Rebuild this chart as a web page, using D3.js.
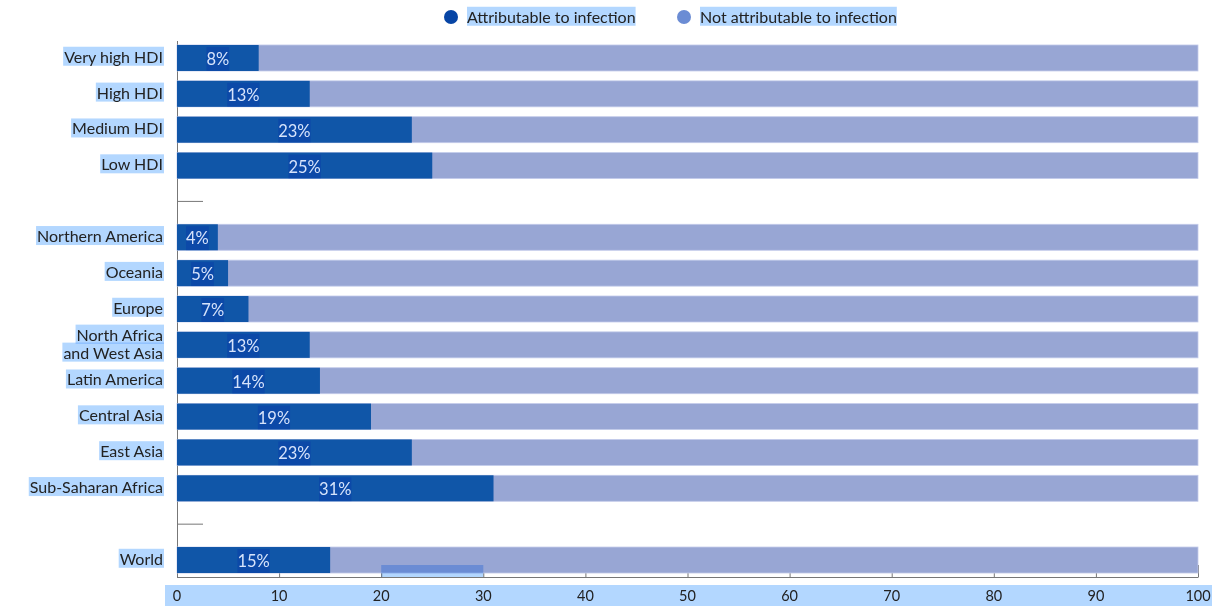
<!DOCTYPE html>
<html>
<head>
<meta charset="utf-8">
<script src="https://cdn.jsdelivr.net/npm/d3@7"></script>
<style>
  html, body { margin: 0; padding: 0; background: #fff; }
  svg { display: block; }
  text { font-family: "Lato", "Noto Sans", sans-serif; }
</style>
</head>
<body>
<svg id="chart" width="1212" height="606"></svg>
<script>
// ---- data ----
const categories = ["Very high HDI", "High HDI", "Medium HDI", "Low HDI", "gap1",
  "Northern America", "Oceania", "Europe", "North Africa\nand West Asia", "Latin America",
  "Central Asia", "East Asia", "Sub-Saharan Africa", "gap2", "World"];
const attributable = [8, 13, 23, 25, null, 4, 5, 7, 13, 14, 19, 23, 31, null, 15];
const seriesNames = ["Attributable to infection", "Not attributable to infection"];
const xTicks = [0, 10, 20, 30, 40, 50, 60, 70, 80, 90, 100];

// ---- layout ----
const W = 1212, H = 606;
const mLeft = 177, mRight = 1198, mTop = 40.5, mBottom = 577.5;
const cAttr = "#0a52a5", cNot = "#98a6d4";
const hl = "#b3d7ff";

const svg = d3.select("#chart");
const x = d3.scaleLinear().domain([0, 100]).range([mLeft, mRight]);
const y = d3.scaleBand().domain(categories).range([mTop, mBottom]).paddingInner(0.275).paddingOuter(0.125);

const rows = categories.map((c, i) => ({ cat: c, v: attributable[i] }));
const dataRows = rows.filter(d => d.v !== null);

// y axis (ticks drawn inward)
const yAxis = svg.append("g").attr("transform", `translate(${mLeft},0)`)
  .call(d3.axisLeft(y).tickSizeInner(-26).tickSizeOuter(0).tickFormat(""));
yAxis.select(".domain").attr("stroke", "#777");
yAxis.selectAll(".tick line").attr("stroke", "#777");

// x axis (ticks inward)
const xAxis = svg.append("g").attr("transform", `translate(0,${mBottom - 0.5})`)
  .call(d3.axisBottom(x).tickValues(xTicks).tickSizeInner(-12).tickSizeOuter(0).tickFormat(""));
xAxis.select(".domain").attr("stroke", "#777");
xAxis.selectAll(".tick line").attr("stroke", "#777");

// bars
const gBars = svg.append("g");
gBars.selectAll("rect.not").data(dataRows).join("rect").attr("class", "not")
  .attr("x", x(0)).attr("y", d => y(d.cat))
  .attr("width", x(100) - x(0)).attr("height", y.bandwidth())
  .attr("fill", cNot)
  .attr("stroke", "#c3cbea").attr("stroke-width", 0.8);
gBars.selectAll("rect.attr").data(dataRows).join("rect").attr("class", "attr")
  .attr("x", x(0)).attr("y", d => y(d.cat))
  .attr("width", d => x(d.v) - x(0)).attr("height", y.bandwidth())
  .attr("fill", cAttr).attr("fill-opacity", 0.96);

// highlight helper: multiply-blend rect behind text
function highlight(g, textSel, padX, padY, fixedH) {
  textSel.each(function () {
    const b = this.getBBox();
    const h = fixedH || (b.height + 2 * padY);
    const yy = fixedH ? b.y + b.height / 2 - fixedH / 2 : b.y - padY;
    g.insert("rect", ":first-child")
      .attr("x", b.x - padX).attr("y", yy)
      .attr("width", b.width + 2 * padX).attr("height", h)
      .attr("fill", hl).style("mix-blend-mode", "multiply");
  });
}

// value labels
const gVal = svg.append("g");
const valTexts = gVal.selectAll("text").data(dataRows).join("text")
  .attr("x", d => (x(0) + x(d.v)) / 2)
  .attr("y", d => y(d.cat) + y.bandwidth() / 2 + 1)
  .attr("dy", "0.36em")
  .attr("text-anchor", "middle")
  .attr("font-size", 16.5)
  .attr("fill", "#d6e3fb")
  .text(d => d.v + "%");
highlight(gVal, valTexts, 0, 0, y.bandwidth() - 2);

// category labels
const gLab = svg.append("g");
const labTexts = [];
dataRows.forEach(d => {
  const lines = d.cat.split("\n");
  const cy = y(d.cat) + y.bandwidth() / 2;
  const lh = 18;
  lines.forEach((ln, i) => {
    const t = gLab.append("text")
      .attr("x", 163).attr("y", cy + (i - (lines.length - 1) / 2) * lh - 1)
      .attr("dy", "0.36em").attr("text-anchor", "end")
      .attr("font-size", 16).attr("fill", "#222").text(ln);
    labTexts.push(t.node());
  });
});
highlight(gLab, d3.selectAll(labTexts), 1, 0);

// x tick labels with band
const gXt = svg.append("g");
gXt.append("rect").attr("x", 165).attr("y", 585).attr("width", W - 165).attr("height", 21).attr("fill", hl);
gXt.selectAll("text").data(xTicks).join("text")
  .attr("x", d => x(d)).attr("y", 596).attr("dy", "0.36em")
  .attr("text-anchor", "middle").attr("font-size", 14.5).attr("fill", "#222")
  .text(d => d);

// selection artefact between 20 and 30 at bottom
svg.append("rect").attr("x", x(20)).attr("y", 565).attr("width", x(30) - x(20)).attr("height", mBottom - 0.5 - 565)
  .attr("fill", hl).style("mix-blend-mode", "multiply");

// legend
const legend = [{ name: seriesNames[0], cx: 451, tx: 467, col: "#0745a5" },
                { name: seriesNames[1], cx: 684, tx: 700, col: "#6b8cd4" }];
const gLeg = svg.append("g");
legend.forEach(l => {
  gLeg.append("circle").attr("cx", l.cx).attr("cy", 17).attr("r", 7).attr("fill", l.col);
});
const legTexts = gLeg.selectAll("text.lg").data(legend).join("text").attr("class", "lg")
  .attr("x", d => d.tx).attr("y", 17).attr("dy", "0.36em")
  .attr("font-size", 16).attr("fill", "#222").text(d => d.name);
highlight(gLeg, legTexts, 0, 0);
</script>
</body>
</html>
